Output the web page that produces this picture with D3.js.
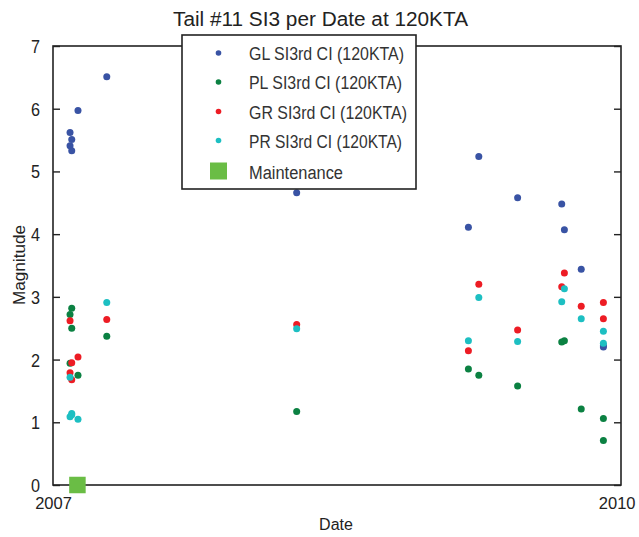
<!DOCTYPE html>
<html>
<head>
<meta charset="utf-8">
<script src="https://cdn.jsdelivr.net/npm/d3@7"></script>
<style>
  html, body { margin: 0; padding: 0; background: #fff; }
  svg { display: block; }
  text { font-family: "Liberation Sans Narrow", "Arial Narrow", "Liberation Sans", sans-serif; fill: #222; }
</style>
</head>
<body>
<svg id="chart" width="639" height="537"></svg>
<script>
// ---- Data (dates as decimal years) ----
const seriesNames = ["GL SI3rd CI (120KTA)", "PL SI3rd CI (120KTA)", "GR SI3rd CI (120KTA)", "PR SI3rd CI (120KTA)"];
const seriesColors = ["#3953a4", "#0b8142", "#ed1c24", "#1dbfc2"];

const glPoints = [
  [2007.090, 5.62], [2007.090, 5.41], [2007.099, 5.51], [2007.099, 5.33], [2007.132, 5.97], [2007.284, 6.51],
  [2008.287, 4.66],
  [2009.194, 4.11], [2009.249, 5.24], [2009.454, 4.58], [2009.687, 4.48], [2009.701, 4.07], [2009.790, 3.44],
  [2009.907, 2.22], [2009.907, 2.20]
];
const plPoints = [
  [2007.090, 2.72], [2007.090, 1.94], [2007.099, 2.82], [2007.099, 2.50], [2007.132, 1.75], [2007.284, 2.37],
  [2008.287, 1.17],
  [2009.194, 1.85], [2009.249, 1.75], [2009.454, 1.58], [2009.687, 2.28], [2009.701, 2.30], [2009.790, 1.21],
  [2009.907, 1.06], [2009.907, 0.71]
];
const grPoints = [
  [2007.090, 2.62], [2007.090, 1.79], [2007.099, 1.95], [2007.099, 1.68], [2007.132, 2.04], [2007.284, 2.64],
  [2008.287, 2.56],
  [2009.194, 2.14], [2009.249, 3.20], [2009.454, 2.47], [2009.687, 3.16], [2009.701, 3.38], [2009.790, 2.85],
  [2009.907, 2.91], [2009.907, 2.65]
];
const prPoints = [
  [2007.090, 1.72], [2007.090, 1.09], [2007.099, 1.14], [2007.099, 1.12], [2007.132, 1.05], [2007.284, 2.91],
  [2008.287, 2.49],
  [2009.194, 2.30], [2009.249, 2.99], [2009.454, 2.29], [2009.687, 2.92], [2009.701, 3.13], [2009.790, 2.65],
  [2009.907, 2.45], [2009.907, 2.26]
];
const maintenanceDates = [2007.129];
const maintenanceColor = "#6abd45";

const xTickValues = [2007, 2010];
const yTickValues = [0, 1, 2, 3, 4, 5, 6, 7];
const titleText = "Tail #11 SI3 per Date at 120KTA";
const xLabel = "Date";
const yLabel = "Magnitude";

// ---- Layout ----
const svg = d3.select("#chart");
const m = { left: 53, right: 621, top: 46, bottom: 485 };
const tickFont = '"Liberation Sans Narrow", "Arial Narrow", "Liberation Sans", sans-serif';

const x = d3.scaleLinear().domain([2007, 2010]).range([m.left, m.right]);
const y = d3.scaleLinear().domain([0, 7]).range([m.bottom, m.top]);

// Title
svg.append("text")
  .attr("x", 320.5).attr("y", 26)
  .attr("text-anchor", "middle")
  .attr("textLength", 295).attr("lengthAdjust", "spacingAndGlyphs")
  .style("font-size", "20px")
  .text(titleText);

// Frame
svg.append("rect")
  .attr("x", m.left).attr("y", m.top)
  .attr("width", m.right - m.left).attr("height", m.bottom - m.top)
  .attr("fill", "none").attr("stroke", "#222").attr("stroke-width", 1.6);

// Left axis (ticks inward)
const yAxisL = d3.axisLeft(y).tickValues(yTickValues).tickFormat(d3.format("d")).tickSizeInner(-7).tickSizeOuter(0).tickPadding(13);
const gL = svg.append("g").attr("transform", `translate(${m.left},0)`).call(yAxisL);
gL.select(".domain").remove();
gL.selectAll("line").attr("stroke", "#222").attr("stroke-width", 1.4);
gL.selectAll("text").style("font-size", "18px").attr("dy", "0.36em").style("font-family", tickFont)
  .attr("transform", "scale(0.9,1)").attr("x", -13 / 0.9);

// Right axis (ticks inward, no labels)
const yAxisR = d3.axisRight(y).tickValues(yTickValues).tickFormat("").tickSizeInner(-7).tickSizeOuter(0);
const gR = svg.append("g").attr("transform", `translate(${m.right},0)`).call(yAxisR);
gR.select(".domain").remove();
gR.selectAll("line").attr("stroke", "#222").attr("stroke-width", 1.4);

// Bottom axis (labels only)
const xAxis = d3.axisBottom(x).tickValues(xTickValues).tickFormat(d3.format("d")).tickSize(0).tickPadding(12);
const gB = svg.append("g").attr("transform", `translate(0,${m.bottom})`).call(xAxis);
gB.select(".domain").remove();
gB.selectAll("text").style("font-size", "16.5px").style("font-family", tickFont)
  .attr("text-anchor", (d, i) => i === xTickValues.length - 1 ? "end" : "middle")
  .attr("x", (d, i) => i === xTickValues.length - 1 ? 14 : 0);

// Axis labels
svg.append("text")
  .attr("x", 336).attr("y", 530)
  .attr("text-anchor", "middle")
  .style("font-size", "16px")
  .text(xLabel);
svg.append("text")
  .attr("transform", "translate(25,265) rotate(-90)")
  .attr("text-anchor", "middle")
  .attr("textLength", 80).attr("lengthAdjust", "spacingAndGlyphs")
  .style("font-size", "16px")
  .text(yLabel);

// Points
const allSeries = [glPoints, plPoints, grPoints, prPoints];
const plot = svg.append("g");
allSeries.forEach((pts, i) => {
  plot.selectAll(null).data(pts).enter().append("circle")
    .attr("cx", d => x(d[0]))
    .attr("cy", d => y(d[1]))
    .attr("r", 3.5)
    .attr("fill", seriesColors[i]);
});

// Maintenance markers
const sq = 16.5;
plot.selectAll(null).data(maintenanceDates).enter().append("rect")
  .attr("x", d => x(d) - sq / 2)
  .attr("y", y(0) - sq / 2)
  .attr("width", sq).attr("height", sq)
  .attr("fill", maintenanceColor);

// Legend
const lg = svg.append("g");
const lgX = 182, lgY = 35, lgW = 234, lgH = 154;
lg.append("rect")
  .attr("x", lgX).attr("y", lgY).attr("width", lgW).attr("height", lgH)
  .attr("fill", "#fff").attr("stroke", "#222").attr("stroke-width", 1.6);
const rowY = [54, 83, 112.5, 141.5, 172.5];
const labelWidths = [155, 153, 158, 153, 94];
seriesNames.forEach((name, i) => {
  lg.append("circle").attr("cx", 218.5).attr("cy", rowY[i] - 1).attr("r", 2.8).attr("fill", seriesColors[i]);
  lg.append("text").attr("x", 249).attr("y", rowY[i]).attr("dy", "0.36em")
    .attr("textLength", labelWidths[i]).attr("lengthAdjust", "spacingAndGlyphs")
    .style("font-size", "18px").style("fill", "#333").text(name);
});
lg.append("rect").attr("x", 218.5 - 8.5).attr("y", rowY[4] - 10).attr("width", 17).attr("height", 17).attr("fill", maintenanceColor);
lg.append("text").attr("x", 249).attr("y", rowY[4]).attr("dy", "0.36em")
  .attr("textLength", labelWidths[4]).attr("lengthAdjust", "spacingAndGlyphs")
  .style("font-size", "18px").style("fill", "#333").text("Maintenance");
</script>
</body>
</html>
